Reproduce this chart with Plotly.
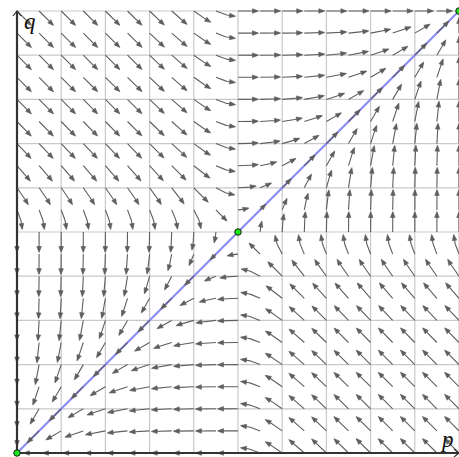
import numpy as np
import plotly.graph_objects as go

# ---- data ----
# arrow tail positions (p and q), every 0.05
P_VALUES = [0.0, 0.05, 0.1, 0.15, 0.2, 0.25, 0.3, 0.35, 0.4, 0.45, 0.5,
            0.55, 0.6, 0.65, 0.7, 0.75, 0.8, 0.85, 0.9, 0.95, 1.0]
Q_VALUES = [0.0, 0.05, 0.1, 0.15, 0.2, 0.25, 0.3, 0.35, 0.4, 0.45, 0.5,
            0.55, 0.6, 0.65, 0.7, 0.75, 0.8, 0.85, 0.9, 0.95, 1.0]
# grid lines
GRID_VALUES = [0.0, 0.1, 0.2, 0.3, 0.4, 0.5, 0.6, 0.7, 0.8, 0.9, 1.0]
# rest points (green dots)
FIXED_P = [0.0, 0.5, 1.0]
FIXED_Q = [0.0, 0.5, 1.0]
# diagonal p = q
DIAG_P = [0.0, 1.0]
DIAG_Q = [0.0, 1.0]
AXIS_LABELS = {"x": "p", "y": "q"}

# field shape parameters (estimated from the arrow directions)
K_SADDLE = 10.0
K_SWITCH = 12.5
SPEED_REF = 0.85

# ---- geometry helpers ----
UNIT_PX = 442.0          # pixels per unit in both directions
PX = 1.0 / UNIT_PX
ARROW_LEN = 20.5 * PX
HEAD_LEN = 6.0 * PX
HEAD_HALF = 2.3 * PX


def sig(x):
    return 1.0 / (1.0 + np.exp(-x))


def field(p, q):
    u = q - 0.5
    v = p - 0.5
    fp = np.tanh(K_SADDLE * u)
    fq = np.tanh(K_SADDLE * v)
    if u * v > 0:
        au, av = abs(u), abs(v)
        fp *= sig(K_SWITCH * (au - av))
        fq *= sig(K_SWITCH * (av - au))
    if (p <= 1e-9 and fp < 0) or (p >= 1 - 1e-9 and fp > 0):
        fp = 0.0
    if (q <= 1e-9 and fq < 0) or (q >= 1 - 1e-9 and fq > 0):
        fq = 0.0
    return fp, fq


def clip01(x):
    return min(1.0, max(0.0, x))


def unit_dir(p, q):
    fp, fq = field(p, q)
    m = np.hypot(fp, fq)
    if m < 1e-9:
        return None
    return fp / m, fq / m


def trace_arrow(p0, q0):
    fp, fq = field(p0, q0)
    mag = np.hypot(fp, fq)
    if mag < 1e-6:
        return None
    ell = ARROW_LEN * min(1.0, mag / SPEED_REF)
    n = 14
    ds = ell / n
    pts = [(p0, q0)]
    p, q = p0, q0
    for _ in range(n):
        d1 = unit_dir(p, q)
        if d1 is None:
            break
        pm, qm = clip01(p + d1[0] * ds / 2), clip01(q + d1[1] * ds / 2)
        d2 = unit_dir(pm, qm) or d1
        p, q = clip01(p + d2[0] * ds), clip01(q + d2[1] * ds)
        pts.append((p, q))
    return pts, ell


shaft_x, shaft_y = [], []
head_x, head_y = [], []
for q0 in Q_VALUES:
    for p0 in P_VALUES:
        res = trace_arrow(p0, q0)
        if res is None:
            continue
        pts, ell = res
        if len(pts) < 2:
            continue
        tip = np.array(pts[-1])
        hl = min(HEAD_LEN, 0.7 * ell)
        back = tip
        acc = 0.0
        for i in range(len(pts) - 1, 0, -1):
            seg = np.array(pts[i]) - np.array(pts[i - 1])
            acc += np.hypot(*seg)
            back = np.array(pts[i - 1])
            if acc >= hl:
                break
        d = tip - back
        dn = np.hypot(*d)
        if dn < 1e-12:
            continue
        d = d / dn
        nrm = np.array([-d[1], d[0]])
        base = tip - d * hl
        hw = HEAD_HALF * (hl / HEAD_LEN) ** 0.5
        a = base + nrm * hw
        b = base - nrm * hw
        head_x += [tip[0], a[0], b[0], tip[0], None]
        head_y += [tip[1], a[1], b[1], tip[1], None]
        sx = [pt[0] for pt in pts[:-1]] + [base[0]]
        sy = [pt[1] for pt in pts[:-1]] + [base[1]]
        shaft_x += sx + [None]
        shaft_y += sy + [None]

grid_x, grid_y = [], []
for g in GRID_VALUES:
    grid_x += [g, g, None, 0.0, 1.0, None]
    grid_y += [0.0, 1.0, None, g, g, None]

fig = go.Figure()
fig.add_trace(go.Scatter(x=grid_x, y=grid_y, mode="lines",
                         line=dict(color="#c9c9c9", width=1.2),
                         hoverinfo="skip", showlegend=False))
fig.add_trace(go.Scatter(x=DIAG_P, y=DIAG_Q, mode="lines",
                         line=dict(color="#8a8af5", width=2.2),
                         hoverinfo="skip", showlegend=False))
fig.add_trace(go.Scatter(x=shaft_x, y=shaft_y, mode="lines",
                         line=dict(color="#5e5e5e", width=1.1),
                         hoverinfo="skip", showlegend=False))
fig.add_trace(go.Scatter(x=head_x, y=head_y, mode="lines", fill="toself",
                         fillcolor="#5e5e5e", line=dict(color="#5e5e5e", width=0.6),
                         hoverinfo="skip", showlegend=False))
# axes
fig.add_trace(go.Scatter(x=[0.0, 0.0, None, 0.0, 1.0],
                         y=[0.0, 1.0, None, 0.0, 0.0], mode="lines",
                         line=dict(color="#333333", width=2.2),
                         hoverinfo="skip", showlegend=False))
fig.add_trace(go.Scatter(x=[-4 * PX, 0.0, 4 * PX, None, 1.0 - 5 * PX, 1.0, 1.0 - 5 * PX],
                         y=[1.0 - 5 * PX, 1.0, 1.0 - 5 * PX, None, 4 * PX, 0.0, -4 * PX],
                         mode="lines", line=dict(color="#333333", width=1.2),
                         hoverinfo="skip", showlegend=False))
fig.add_trace(go.Scatter(x=FIXED_P, y=FIXED_Q, mode="markers",
                         marker=dict(size=6.5, color="#19e619",
                                     line=dict(color="#1a1a1a", width=1)),
                         cliponaxis=False, hoverinfo="skip", showlegend=False))

fig.add_annotation(x=13 * PX, y=1.0 - 10 * PX, text="<i>" + AXIS_LABELS["y"] + "</i>",
                   showarrow=False, xanchor="center", yanchor="middle",
                   font=dict(family="Liberation Serif", size=23, color="#111111"))
fig.add_annotation(x=1.0 - 12 * PX, y=14 * PX, text="<i>" + AXIS_LABELS["x"] + "</i>",
                   showarrow=False, xanchor="center", yanchor="middle",
                   font=dict(family="Liberation Serif", size=23, color="#111111"))

fig.update_layout(
    width=459, height=457,
    margin=dict(l=0, r=0, t=0, b=0, pad=0),
    paper_bgcolor="white", plot_bgcolor="white",
    xaxis=dict(range=[-17 * PX, -17 * PX + 459 * PX], visible=False, fixedrange=True),
    yaxis=dict(range=[-4 * PX, -4 * PX + 457 * PX], visible=False, fixedrange=True),
)
fig.write_html(
    "out.html",
    config={"displayModeBar": False, "staticPlot": True},
    post_script="document.body.style.margin='0';document.body.style.overflow='hidden';",
)
